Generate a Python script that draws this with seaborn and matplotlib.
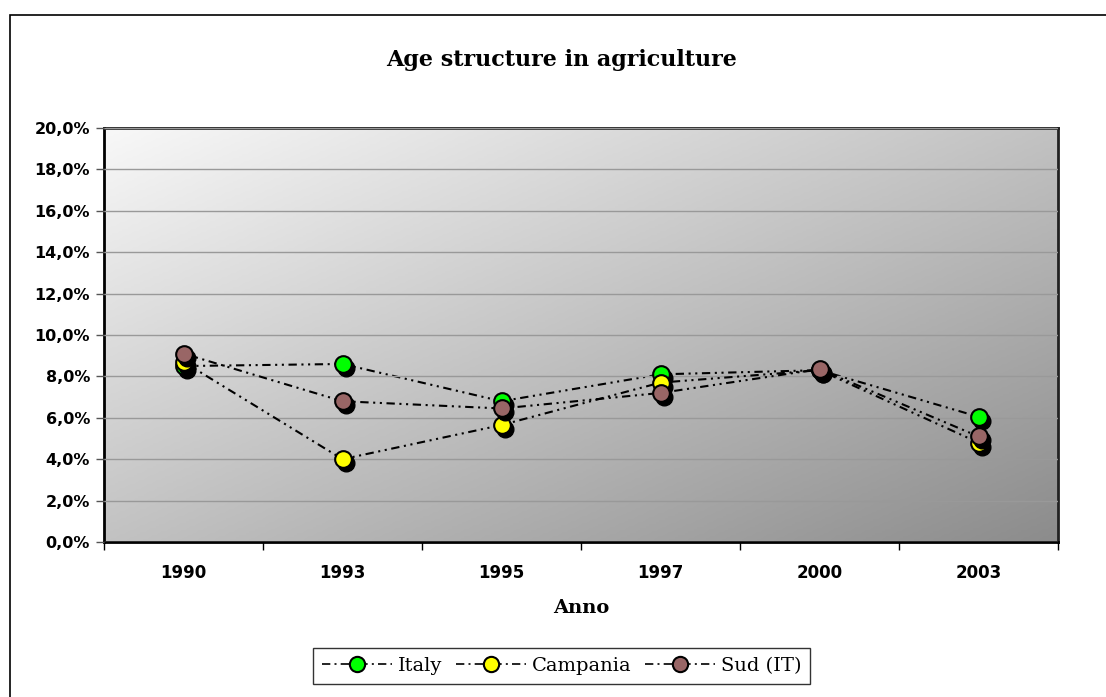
import numpy as np
import pandas as pd
import matplotlib
matplotlib.use("Agg")
import matplotlib.pyplot as plt
import matplotlib.transforms as mtransforms
from matplotlib.patches import Rectangle
from matplotlib.ticker import FuncFormatter, FixedLocator
import seaborn as sns

# data (percent)
years = ['1990', '1993', '1995', '1997', '2000', '2003']
italy = [8.5, 8.6, 6.8, 8.1, 8.3, 6.05]
campania = [8.7, 4.0, 5.65, 7.7, 8.3, 4.8]
sud = [9.1, 6.8, 6.45, 7.2, 8.35, 5.1]

series = {'Italy': italy, 'Campania': campania, 'Sud (IT)': sud}
colors = {'Italy': '#00ff00', 'Campania': '#ffff00', 'Sud (IT)': '#996666'}

rows = []
for name, vals in series.items():
    for i, v in enumerate(vals):
        rows.append({'pos': i, 'year': years[i], 'value': v, 'series': name})
df = pd.DataFrame(rows)

sns.set_style('white', rc={'text.color': 'black', 'xtick.color': 'black',
                           'ytick.color': 'black', 'axes.labelcolor': 'black'})
plt.rcParams['font.family'] = ['DejaVu Sans']

fig = plt.figure(figsize=(11.06, 6.97), dpi=100)
ax = fig.add_axes([104 / 1106, 1 - 542 / 697, (1058 - 104) / 1106, (542 - 128) / 697])

# gradient background: light top-left to grey bottom-right
gx, gy = np.meshgrid(np.linspace(0, 1, 300), np.linspace(0, 1, 200))
grad = (gx + gy) / 2
ax.imshow(grad, extent=[-0.5, 5.5, 0, 20], origin='upper', aspect='auto',
          cmap=matplotlib.colors.LinearSegmentedColormap.from_list('g', ['#f8f8f8', '#8c8c8c']),
          zorder=0, interpolation='bilinear')

dash = [4, 2.2, 1, 2.2, 1, 2.2]
shadow = mtransforms.offset_copy(ax.transData, fig=fig, x=3, y=-4, units='dots')

for k, (name, vals) in enumerate(series.items()):
    sub = df[df['series'] == name]
    sns.lineplot(data=sub, x='pos', y='value', ax=ax, color='black', lw=1.5,
                 zorder=2 + 3 * k, legend=False)
    ax.lines[-1].set_dashes(dash)
    ax.plot(sub['pos'], sub['value'], 'o', color='black', ms=12, mec='black',
            transform=shadow, zorder=3 + 3 * k)
    ax.plot(sub['pos'], sub['value'], 'o', mfc=colors[name], mec='black', mew=1.5,
            ms=12, zorder=4 + 3 * k)

ax.set_xlim(-0.5, 5.5)
ax.set_ylim(0, 20)
ax.set_yticks(np.arange(0, 20.1, 2))
ax.yaxis.set_major_formatter(FuncFormatter(lambda v, p: f"{v:.1f}%".replace('.', ',')))
ax.set_xticks(range(len(years)))
ax.set_xticklabels(years)
ax.xaxis.set_minor_locator(FixedLocator(np.arange(-0.5, 5.6, 1)))
ax.tick_params(axis='x', which='major', length=0, pad=16, labelsize=12)
ax.tick_params(axis='x', which='minor', length=6, width=1, color='black', direction='out', bottom=True)
ax.tick_params(axis='y', length=6, width=1, color='#555555', direction='out', left=True, labelsize=11.5, pad=4)
for lab in ax.get_xticklabels() + ax.get_yticklabels():
    lab.set_fontweight('bold')

ax.grid(axis='y', color='#999999', lw=1, zorder=1)
ax.set_axisbelow(False)
for s in ['left', 'bottom']:
    ax.spines[s].set_color('black')
    ax.spines[s].set_linewidth(2)
for s in ['top', 'right']:
    ax.spines[s].set_color('#222222')
    ax.spines[s].set_linewidth(2)

ax.set_xlabel('Anno', fontfamily='DejaVu Serif', fontweight='bold', fontsize=14, labelpad=12)
ax.set_ylabel('')
fig.text(0.508, 1 - 60 / 697, 'Age structure in agriculture', ha='center', va='center',
         fontfamily='DejaVu Serif', fontweight='bold', fontsize=16)

# outer chart frame
fig.patches.append(Rectangle((10 / 1106, -0.1), 1.2, 0.1 + 1 - 15 / 697, transform=fig.transFigure,
                             fill=False, ec='black', lw=1.2))

handles = [matplotlib.lines.Line2D([], [], color='black', lw=1.2, dashes=[5, 2.5, 1.2, 2.5],
                                   marker='o', mfc=colors[n], mec='black', mew=1.5, ms=11)
           for n in series]
leg = fig.legend(handles, list(series.keys()), loc='center', bbox_to_anchor=(0.508, 1 - 666 / 697),
                 ncol=3, frameon=True, fancybox=False, edgecolor='black', handlelength=3.6,
                 handletextpad=0.3, columnspacing=0.7, borderpad=0.45,
                 prop={'family': 'DejaVu Serif', 'size': 14})
leg.get_frame().set_linewidth(1)

fig.savefig('out.png', dpi=100)
